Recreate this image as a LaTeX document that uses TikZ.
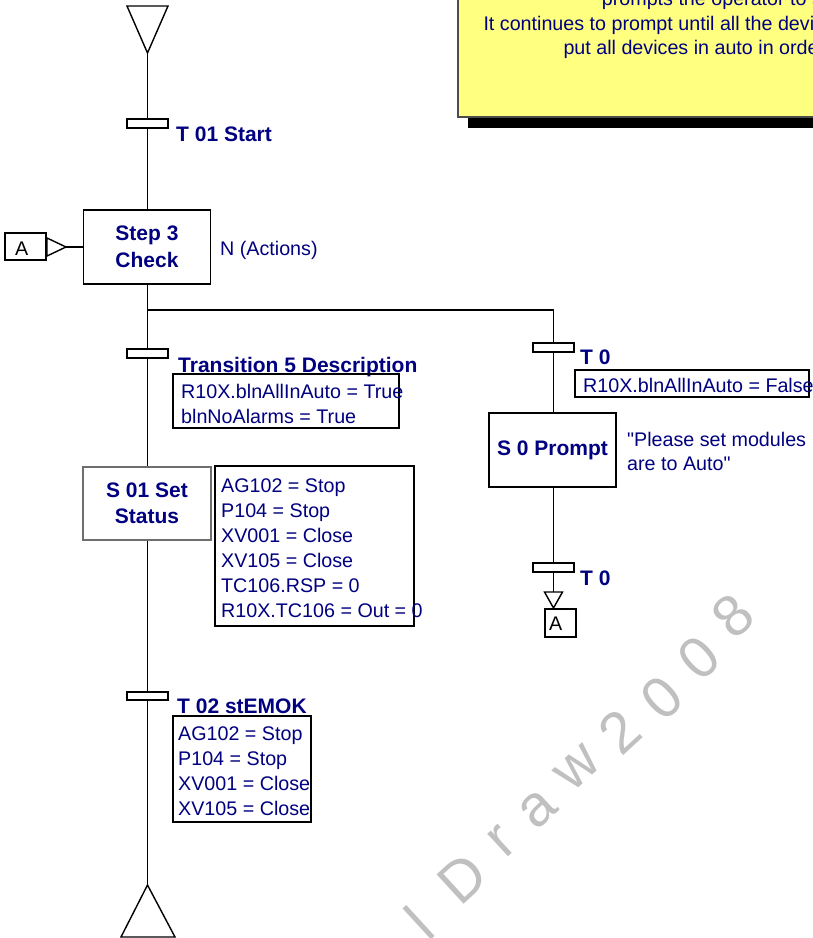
\documentclass[tikz,border=0pt]{standalone}
\usepackage{fontspec}
\setmainfont{Liberation Sans}
\newfontfamily\plainsans{Liberation Sans}
\definecolor{navy}{RGB}{0,0,128}
\definecolor{noteyellow}{RGB}{255,255,128}
\definecolor{wmgray}{RGB}{192,192,192}
\definecolor{boxgray}{RGB}{110,110,110}
\tikzset{
  conn/.style={line width=1.8pt},
  stepbox/.style={draw, line width=1.8pt, fill=white, minimum width=127pt, minimum height=74pt,
    inner sep=0pt, text=navy, align=center, font=\fontsize{21}{26.5}\selectfont\bfseries},
  trbar/.style={draw, line width=1.3pt, fill=white, minimum width=41pt, minimum height=9pt, inner sep=0pt},
  lbl/.style={anchor=base west, inner sep=0pt, text=navy, font=\fontsize{21}{26}\selectfont\bfseries},
  txt/.style={anchor=base west, inner sep=0pt, text=navy, align=left, font=\fontsize{19.7}{25}\selectfont},
  condbox/.style={draw, line width=1.8pt, inner sep=0pt},
  tri/.style={draw, line width=1.4pt, fill=white, line join=miter},
  refbox/.style={draw, line width=1.5pt, inner sep=0pt},
  atxt/.style={anchor=base west, inner sep=0pt, text=black, font=\fontsize{19.7}{24}\selectfont},
  wm/.style={text=wmgray, inner sep=0pt, font=\fontsize{58}{58}\selectfont}
}
\begin{document}
\begin{tikzpicture}[x=1pt,y=-1pt]
\path[use as bounding box] (0,0) rectangle (813,938);
\clip (0,0) rectangle (813,938);
\fill[white] (0,0) rectangle (813,938);

% watermark
\foreach \ch/\px/\py [count=\i] in {l/419/923, D/462/878, r/498/837, a/534/805, w/574/764, 2/619/731, 0/661/697, 0/698/657, 8/732/615}
  \node[wm, rotate=42.5] (wm\i) at (\px,\py) {\vphantom{Dl}\ch};

% yellow note with shadow
\fill[black] (468,-10) rectangle (840,128);
\filldraw[fill=noteyellow, draw=black!70, line width=1.2pt] (458,-20) rectangle (830,117);
\node[txt] (n1) at (601.7,5.5) {prompts the operator to s};
\node[txt] (n2) at (483.3,30.5) {It continues to prompt until all the devi};
\node[txt] (n3) at (563.3,54.5) {put all devices in auto in orde};

% main left column
\coordinate (topapex) at (147.5,53);
\draw[tri] (127,6) -- (168,6) -- (topapex) -- cycle;
\node[trbar] (t1) at (147.5,123.5) {};
\node[lbl] (t1l) at (176,141.5) {T 01 Start};
\node[stepbox] (step3) at (147,247) {Step 3\\Check};
\node[txt] (nact) at (220,255) {N (Actions)};

% reference A on the left
\node[refbox, minimum width=41pt, minimum height=27pt] (aL) at (25.5,246.5) {};
\node[atxt] (aLt) at (15,255.3) {A};
\coordinate (aapex) at (66,247);
\draw[tri] (47,238) -- (aapex) -- (47,256) -- cycle;
\draw[conn] (aapex) -- (aapex -| step3.west);

\draw[conn] (topapex) -- (t1);
\draw[conn] (t1) -- (t1 |- step3.north);

% transition 5
\coordinate (br) at (147.5,310);
\node[trbar] (t5) at (147.5,353.5) {};
\node[lbl] (t5l) at (178,372) {Transition 5 Description};
\node[condbox, minimum width=226pt, minimum height=54pt] (c5) at (286,401) {};
\node[txt] (c5t) at (181,423) {R10X.blnAllInAuto = True\\blnNoAlarms = True};

\draw[conn] (t1 |- step3.south) -- (t5);

% S 01
\node[stepbox, draw=boxgray, minimum width=128pt, minimum height=73pt] (s01) at (147,503.5) {S 01 Set\\Status};
\node[condbox, minimum width=199pt, minimum height=160pt] (a01) at (314.5,546) {};
\node[txt] (a01t) at (221,617.5) {AG102 = Stop\\P104 = Stop\\XV001 = Close\\XV105 = Close\\TC106.RSP = 0\\R10X.TC106 = Out = 0};
\draw[conn] (t5) -- (t5 |- s01.north);

% T 02
\node[trbar, minimum height=8pt] (t2) at (147.5,696) {};
\node[lbl] (t2l) at (177,713) {T 02 stEMOK};
\node[condbox, minimum width=138pt, minimum height=106pt] (c2) at (242,769) {};
\node[txt] (c2t) at (178,815) {AG102 = Stop\\P104 = Stop\\XV001 = Close\\XV105 = Close};
\draw[conn] (t2 |- s01.south) -- (t2);

\coordinate (botapex) at (147.5,885);
\draw[conn] (t2) -- (botapex);
\draw[tri] (botapex) -- (175,937) -- (121,937) -- cycle;

% right branch
\node[trbar] (t0a) at (553.5,347.5) {};
\draw[conn] (br) -| (t0a);
\node[lbl] (t0al) at (580,364) {T 0};
\node[condbox, minimum width=234pt, minimum height=27pt] (cf) at (692,383.5) {};
\node[txt] (cft) at (583,392) {R10X.blnAllInAuto = False};
\node[stepbox] (s0) at (552.5,450) {S 0 Prompt};
\node[txt, font=\fontsize{19.7}{24.5}\selectfont\plainsans] (s0t) at (627,470.5) {"Please set modules\\are to Auto"};
\draw[conn] (t0a) -- (t0a |- s0.north);
\node[trbar] (t0b) at (553.5,567.5) {};
\node[lbl] (t0bl) at (580,585) {T 0};
\draw[conn] (t0a |- s0.south) -- (t0b);
\coordinate (rtop) at (553.5,592);
\coordinate (rapex) at (553.5,608);
\draw[conn] (t0b) -- (rtop);
\draw[tri] (544.5,592) -- (562.5,592) -- (rapex) -- cycle;
\node[refbox, minimum width=31pt, minimum height=28pt] (aR) at (560.5,623) {};
\node[atxt] (aRt) at (549,630) {A};
\end{tikzpicture}
\end{document}
